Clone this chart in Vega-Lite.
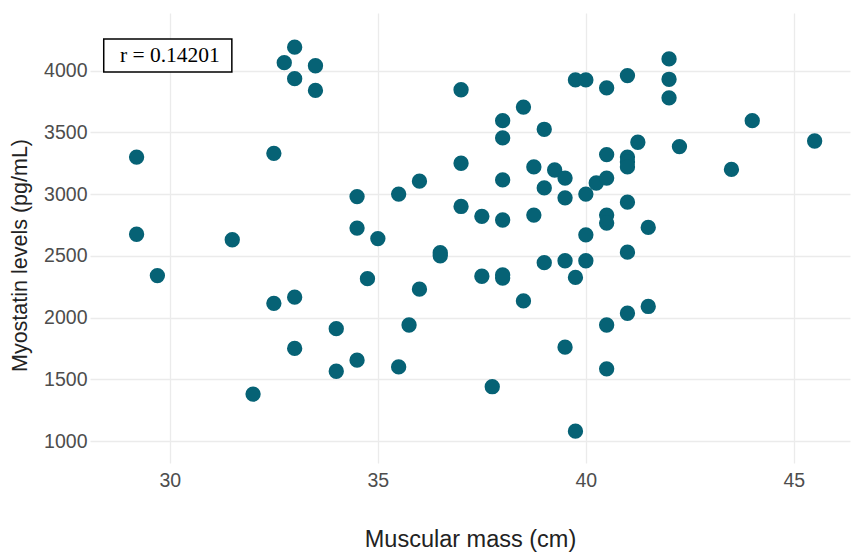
{
  "$schema": "https://vega.github.io/schema/vega-lite/v6.json",
  "autosize": "none",
  "width": 760,
  "height": 450,
  "padding": {"left": 90, "top": 13, "right": 3, "bottom": 90},
  "background": "white",
  "config": {
    "view": {"stroke": null},
    "axis": {
      "domain": false,
      "ticks": false,
      "grid": true,
      "gridColor": "#ebebeb",
      "gridWidth": 1.3,
      "labelFont": "Liberation Sans",
      "labelFontSize": 19.5,
      "labelColor": "#4d4d4d",
      "titleFont": "Liberation Sans",
      "titleFontWeight": "normal",
      "titleColor": "#222222"
    }
  },
  "datasets": {
    "points": [
      {"mass": 29.2, "myostatin": 3300},
      {"mass": 29.2, "myostatin": 2675},
      {"mass": 29.7, "myostatin": 2340},
      {"mass": 31.5, "myostatin": 2630},
      {"mass": 32.0, "myostatin": 1380},
      {"mass": 32.5, "myostatin": 3330},
      {"mass": 32.5, "myostatin": 2115},
      {"mass": 33.0, "myostatin": 2165},
      {"mass": 33.0, "myostatin": 1750},
      {"mass": 33.0, "myostatin": 4190},
      {"mass": 32.75, "myostatin": 4065},
      {"mass": 33.0, "myostatin": 3935},
      {"mass": 33.5, "myostatin": 4040},
      {"mass": 33.5, "myostatin": 3840},
      {"mass": 34.0, "myostatin": 1910},
      {"mass": 34.0, "myostatin": 1565},
      {"mass": 34.5, "myostatin": 2980},
      {"mass": 34.5, "myostatin": 2725},
      {"mass": 34.5, "myostatin": 1655},
      {"mass": 34.75, "myostatin": 2315},
      {"mass": 35.0, "myostatin": 2640},
      {"mass": 35.5, "myostatin": 3000},
      {"mass": 35.5, "myostatin": 1600},
      {"mass": 35.75, "myostatin": 1940},
      {"mass": 36.0, "myostatin": 3105},
      {"mass": 36.0, "myostatin": 2230},
      {"mass": 36.5, "myostatin": 2525},
      {"mass": 36.5, "myostatin": 2500},
      {"mass": 37.0, "myostatin": 3845},
      {"mass": 37.0, "myostatin": 3250},
      {"mass": 37.0, "myostatin": 2900},
      {"mass": 37.5, "myostatin": 2820},
      {"mass": 37.5, "myostatin": 2335},
      {"mass": 37.75, "myostatin": 1440},
      {"mass": 38.0, "myostatin": 3595},
      {"mass": 38.0, "myostatin": 3455},
      {"mass": 38.0, "myostatin": 3115},
      {"mass": 38.0, "myostatin": 2790},
      {"mass": 38.0, "myostatin": 2320},
      {"mass": 38.0, "myostatin": 2345},
      {"mass": 38.5, "myostatin": 3705},
      {"mass": 38.5, "myostatin": 2135},
      {"mass": 38.75, "myostatin": 3220},
      {"mass": 38.75, "myostatin": 2830},
      {"mass": 39.0, "myostatin": 3525},
      {"mass": 39.0, "myostatin": 3050},
      {"mass": 39.0, "myostatin": 2445},
      {"mass": 39.25, "myostatin": 3195},
      {"mass": 39.5, "myostatin": 3130},
      {"mass": 39.5, "myostatin": 2970},
      {"mass": 39.5, "myostatin": 2460},
      {"mass": 39.5, "myostatin": 1760},
      {"mass": 39.75, "myostatin": 3925},
      {"mass": 39.75, "myostatin": 2325},
      {"mass": 39.75, "myostatin": 1080},
      {"mass": 40.0, "myostatin": 3925},
      {"mass": 40.0, "myostatin": 3000},
      {"mass": 40.0, "myostatin": 2670},
      {"mass": 40.0, "myostatin": 2460},
      {"mass": 40.25, "myostatin": 3090},
      {"mass": 40.5, "myostatin": 3860},
      {"mass": 40.5, "myostatin": 3320},
      {"mass": 40.5, "myostatin": 3130},
      {"mass": 40.5, "myostatin": 2830},
      {"mass": 40.5, "myostatin": 2765},
      {"mass": 40.5, "myostatin": 1940},
      {"mass": 40.5, "myostatin": 1585},
      {"mass": 41.0, "myostatin": 3960},
      {"mass": 41.0, "myostatin": 3300},
      {"mass": 41.0, "myostatin": 3260},
      {"mass": 41.0, "myostatin": 3220},
      {"mass": 41.0, "myostatin": 2935},
      {"mass": 41.0, "myostatin": 2530},
      {"mass": 41.0, "myostatin": 2035},
      {"mass": 41.25, "myostatin": 3420},
      {"mass": 41.5, "myostatin": 2730},
      {"mass": 41.5, "myostatin": 2090},
      {"mass": 42.0, "myostatin": 4095},
      {"mass": 42.0, "myostatin": 3930},
      {"mass": 42.0, "myostatin": 3780},
      {"mass": 42.25, "myostatin": 3385},
      {"mass": 43.5, "myostatin": 3200},
      {"mass": 44.0, "myostatin": 3595},
      {"mass": 45.5, "myostatin": 3430}
    ]
  },
  "layer": [
    {
      "data": {"name": "points"},
      "mark": {"type": "point", "filled": true, "size": 235, "opacity": 1, "color": "#066275", "stroke": null},
      "encoding": {
        "x": {
          "field": "mass", "type": "quantitative",
          "scale": {"domain": [28.08, 46.35], "nice": false, "zero": false},
          "axis": {"title": "Muscular mass (cm)", "values": [30, 35, 40, 45], "format": "d", "labelPadding": 8, "titlePadding": 38, "titleFontSize": 23.5}
        },
        "y": {
          "field": "myostatin", "type": "quantitative",
          "scale": {"domain": [822, 4467], "nice": false, "zero": false},
          "axis": {"title": "Myostatin levels (pg/mL)", "values": [1000, 1500, 2000, 2500, 3000, 3500, 4000], "format": "d", "labelPadding": 3, "titlePadding": 12, "titleFontSize": 21.5, "titleY": 242}
        }
      }
    },
    {
      "data": {"values": [{}]},
      "mark": {"type": "rect", "fill": "white", "stroke": "black", "strokeWidth": 1.5},
      "encoding": {
        "x": {"datum": 28.41, "type": "quantitative"},
        "x2": {"datum": 31.49},
        "y": {"datum": 3990, "type": "quantitative"},
        "y2": {"datum": 4257}
      }
    },
    {
      "data": {"values": [{"label": "r = 0.14201"}]},
      "mark": {"type": "text", "font": "Liberation Serif", "fontSize": 21.5, "color": "black", "align": "center", "baseline": "middle"},
      "encoding": {
        "x": {"datum": 30, "type": "quantitative"},
        "y": {"datum": 4118, "type": "quantitative"},
        "text": {"field": "label"}
      }
    }
  ]
}
